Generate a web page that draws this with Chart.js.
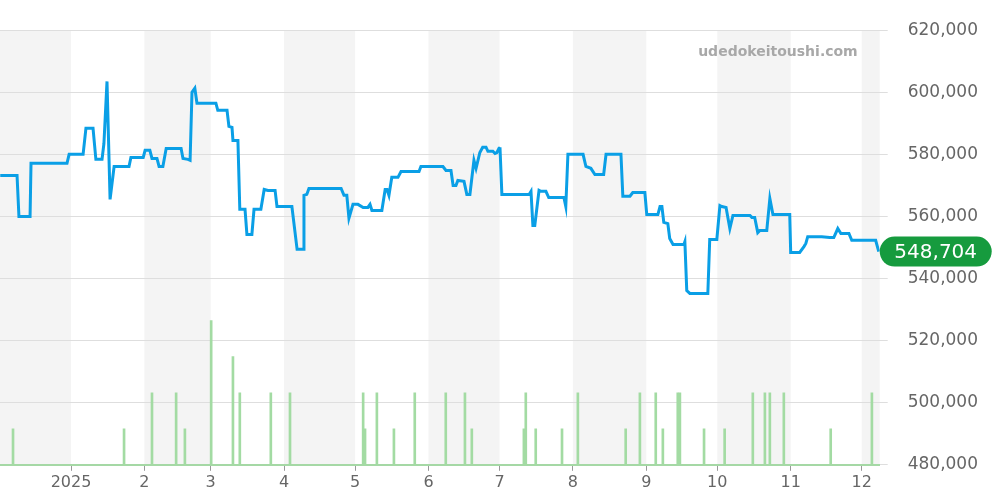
<!DOCTYPE html>
<html>
<head>
<meta charset="utf-8">
<script src="https://cdn.jsdelivr.net/npm/chart.js@4"></script>
<style>
  html, body { margin: 0; padding: 0; background: #fff; }
  #wrap { width: 1000px; height: 500px; position: relative; }
</style>
</head>
<body>
<div id="wrap"><canvas id="chart"></canvas></div>
<script>
// days counted from 2025-01-01, prices in yen
const priceDays = [-29.9,-22.8,-22.0,-17.3,-16.9,-1.7,-0.8,5.1,6.3,9.3,
    10.5,13.1,13.9,15.2,16.5,18.2,24.5,25.3,30.5,31.3,
    33.3,34.2,36.3,37.2,38.8,40.2,46.5,47.3,49.4,50.3,
    51.1,52.3,53.2,61.2,62.0,65.9,66.7,68.0,68.4,70.5,
    71.3,73.5,74.3,76.4,77.3,80.2,81.6,83.2,86.2,87.0,
    93.3,95.5,98.0,98.4,99.6,100.5,114.1,115.3,116.5,117.4,
    119.1,121.2,123.4,125.4,126.3,127.1,131.3,132.7,133.5,134.3,
    135.5,138.1,139.4,147.0,147.8,157.1,158.4,160.5,161.4,162.6,
    163.4,166.0,167.2,168.5,170.2,171.1,172.7,173.9,175.3,176.1,
    178.2,179.1,179.9,180.8,181.2,182.0,193.5,194.3,195.1,195.9,
    197.7,198.5,200.6,201.8,208.2,209.0,209.9,216.3,217.5,219.6,
    221.3,225.0,226.0,232.3,233.1,236.1,237.3,242.4,243.2,247.9,
    248.8,249.6,250.4,252.1,252.9,254.3,258.9,259.3,260.1,261.4,
    269.0,269.8,272.8,274.1,274.9,276.7,278.3,279.6,286.8,287.6,
    288.8,290.1,291.0,293.9,295.2,296.5,303.6,304.0,307.8,309.6,
    310.4,311.2,317.1,320.5,322.2,323.9,325.2,328.6,329.8,339.9,
    341.2];
const priceValues = [573200,573200,560000,560000,577100,577100,580000,580000,588400,588400,
    578400,578400,583500,603500,565500,576100,576100,579000,579000,581300,
    581300,578700,578700,576100,576100,581900,581900,578700,578400,578100,
    600000,601300,596500,596500,594200,594200,589000,588700,584500,584500,
    562300,562300,554200,554200,562300,562300,568700,568400,568400,563200,
    563200,549400,549400,566800,567100,569000,569000,566800,566800,559400,
    563900,563900,562900,562900,563900,561900,561900,568700,568700,566800,
    572600,572600,574500,574500,576100,576100,574800,574800,570000,570000,
    571600,571300,567100,567100,578100,575500,580600,582300,582300,581000,
    581000,580300,580600,582000,582300,567100,567100,568100,557100,557100,
    568400,568100,568100,566100,566100,563200,580000,580000,576100,575500,
    573500,573500,580000,580000,566500,566500,567700,567700,560600,560600,
    563200,563200,558100,557700,552900,551000,551000,551900,536100,535200,
    535200,552600,552600,563500,563200,562900,556100,560300,560300,559700,
    559700,554800,555500,555500,565800,560600,560600,548400,548400,550300,
    551300,553500,553500,553200,553200,556100,554500,554500,552300,552300,
    548704];
const volumeDays = [-24.5,22.4,34.2,44.4,48.1,59.2,68.4,71.3,84.4,92.5,123.4,124.2,129.2,136.4,145.2,158.3,166.4,169.3,191.3,192.1,196.3,207.4,214.1,234.3,240.3,247.0,250.0,256.3,257.2,267.4,276.1,288.0,293.1,295.2,301.1,320.9,338.3];
const volumeValues = [1,1,2,2,1,4,3,2,2,2,2,1,2,1,2,2,2,1,1,2,1,1,2,1,2,2,1,2,2,1,1,2,2,2,2,1,2];
const monthStarts = [0,31,59,90,120,151,181,212,243,273,304,334];
const monthLabels = ['2025','2','3','4','5','6','7','8','9','10','11','12'];
const yTicks = [480000,500000,520000,540000,560000,580000,600000,620000];
const lastPrice = 548704;
const xMin = -30.0, xMax = 341.6;

const bands = {
    id: 'bands',
    beforeDraw(chart) {
        const { ctx, chartArea: a, scales: { x } } = chart;
        const edges = [xMin, ...monthStarts, xMax];
        ctx.save();
        ctx.fillStyle = '#f4f4f4';
        for (let i = 0; i < edges.length - 1; i += 2) {
            const l = Math.max(a.left, x.getPixelForValue(edges[i]));
            const r = Math.min(a.right, x.getPixelForValue(edges[i + 1]));
            ctx.fillRect(l, a.top, r - l, a.bottom - a.top);
        }
        ctx.restore();
    }
};

const badge = {
    id: 'badge',
    afterDraw(chart) {
        const { ctx, chartArea: a, scales: { y } } = chart;
        const py = y.getPixelForValue(lastPrice);
        const l = a.right, w = 112, h = 30;
        ctx.save();
        ctx.fillStyle = '#169b3e';
        ctx.beginPath();
        ctx.roundRect(l, py - h / 2, w, h, 15);
        ctx.fill();
        ctx.fillStyle = '#fff';
        ctx.font = '20px "DejaVu Sans"';
        ctx.textAlign = 'center';
        ctx.textBaseline = 'middle';
        ctx.fillText(lastPrice.toLocaleString('en-US'), l + w / 2, py + 1);
        ctx.fillStyle = '#a8a8a8';
        ctx.font = 'bold 14px "DejaVu Sans"';
        ctx.textAlign = 'right';
        ctx.fillText('udedokeitoushi.com', a.right - 22, a.top + 22);
        ctx.restore();
    }
};

new Chart(document.getElementById('chart'), {
    data: {
        datasets: [
            {
                type: 'line',
                data: priceDays.map((d, i) => ({ x: d, y: priceValues[i] })),
                borderColor: '#0a9fe6',
                borderWidth: 3,
                pointRadius: 0,
                tension: 0,
                yAxisID: 'y',
                order: 1
            },
            {
                type: 'bar',
                data: volumeDays.map((d, i) => ({ x: d, y: volumeValues[i] })),
                backgroundColor: '#a3dba3',
                barThickness: 2,
                yAxisID: 'v',
                order: 2
            }
        ]
    },
    options: {
        responsive: true,
        maintainAspectRatio: false,
        animation: false,
        layout: { padding: { top: 30, right: 2, left: 0, bottom: 6 } },
        plugins: { legend: { display: false }, tooltip: { enabled: false } },
        scales: {
            x: {
                type: 'linear',
                offset: false,
                min: xMin, max: xMax,
                afterBuildTicks: s => { s.ticks = monthStarts.map(v => ({ value: v })); },
                ticks: {
                    callback: (v) => monthLabels[monthStarts.indexOf(v)],
                    color: '#666', font: { size: 16, family: 'DejaVu Sans' }, maxRotation: 0, autoSkip: false, padding: 2
                },
                grid: { drawOnChartArea: false, offset: false, tickLength: 6, color: '#999' },
                border: { color: '#a5d8a5', width: 2 }
            },
            y: {
                position: 'right',
                min: 480000, max: 620000,
                afterBuildTicks: s => { s.ticks = yTicks.map(v => ({ value: v })); },
                ticks: {
                    callback: v => v.toLocaleString('en-US'),
                    color: '#666', font: { size: 17, family: 'DejaVu Sans' }, padding: 20
                },
                grid: { color: '#dedede', tickLength: 8 },
                border: { display: false }
            },
            v: {
                display: false,
                min: 0, max: 12.06
            }
        }
    },
    plugins: [bands, badge]
});
</script>
</body>
</html>
